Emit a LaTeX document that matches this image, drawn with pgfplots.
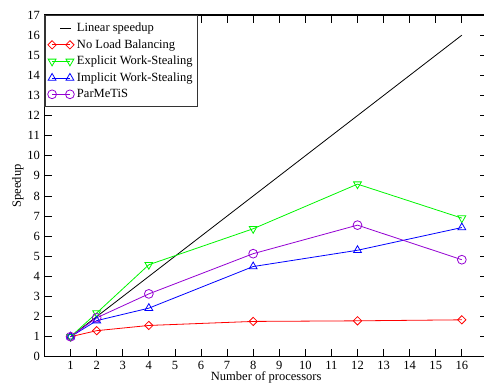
\documentclass[border=0pt]{standalone}
\usepackage{pgfplots}
\pgfplotsset{compat=1.18}
\usepackage{fontspec}
\setmainfont{Liberation Serif}
\definecolor{cred}{RGB}{255,0,0}
\definecolor{cgreen}{RGB}{0,245,0}
\definecolor{cblue}{RGB}{0,0,255}
\definecolor{cpurple}{RGB}{148,0,211}
\pgfplotsset{
  shortline legend/.style={legend image code/.code={\draw[##1] (0.22cm,0cm) -- (0.49cm,0cm);}},
  twomark legend/.style={legend image code/.code={\draw[mark repeat=1,##1] plot coordinates {(0cm,0cm) (0.47cm,0cm)};}},
}
\begin{document}
\begin{tikzpicture}[font=\fontsize{9.4}{11.3}\selectfont]
\begin{axis}[
  scale only axis,
  width=332.7pt, height=256.4pt,
  xmin=0, xmax=17, ymin=0, ymax=17,
  xtick={1,2,...,16}, ytick={0,1,...,17},
  /pgf/number format/assume math mode=true,
  xticklabel={\pgfmathprintnumber[assume math mode=true]{\tick}},
  yticklabel={\pgfmathprintnumber[assume math mode=true]{\tick}},
  tick align=inside,
  major tick length=6pt,
  tick style={line width=0.6pt, black},
  axis line style={line width=0.9pt},
  xlabel={Number of processors},
  ylabel={Speedup},
  xlabel style={at={(axis description cs:0.5,-0.0702)}, anchor=base, inner sep=0pt},
  ylabel style={at={(axis description cs:-0.0598,0.5)}, anchor=center, inner sep=0pt},
  legend style={at={(0,1)}, anchor=north west, draw=black!80, line width=0.8pt,
    font=\fontsize{9.4}{11.3}\selectfont, row sep=0.4pt, inner xsep=2pt, inner ysep=3.5pt,
    cells={anchor=west}},
  twomark legend,
  every axis plot/.append style={line width=0.6pt},
]
\addplot[black, no markers, shortline legend] coordinates {(1,1) (16,16)};
\addlegendentry{Linear speedup}
\addplot[cred, mark=square, mark size=2.2pt, mark options={rotate=45, solid, fill=none}] coordinates {
(1,1.0) (2,1.3) (4,1.56) (8,1.76) (12,1.79) (16,1.84)};
\addlegendentry{No Load Balancing}
\addplot[cgreen, mark=triangle, mark size=3.4pt, mark options={rotate=180, solid, fill=none}] coordinates {
(1,1.0) (2,2.18) (4,4.58) (8,6.37) (12,8.59) (16,6.9)};
\addlegendentry{Explicit Work-Stealing}
\addplot[cblue, mark=triangle, mark size=3.4pt, mark options={solid, fill=none}] coordinates {
(1,1.0) (2,1.8) (4,2.42) (8,4.49) (12,5.3) (16,6.43)};
\addlegendentry{Implicit Work-Stealing}
\addplot[cpurple, mark=o, mark size=3.3pt, mark options={solid, fill=none}] coordinates {
(1,1.0) (2,1.94) (4,3.13) (8,5.13) (12,6.55) (16,4.83)};
\addlegendentry{ParMeTiS}
\coordinate (bbsw) at (axis cs:-1.706,-1.49);
\coordinate (bbne) at (axis cs:16.85,17.75);
\end{axis}
\pgfresetboundingbox
\path[use as bounding box] (bbsw) rectangle (bbne);
\end{tikzpicture}
\end{document}
